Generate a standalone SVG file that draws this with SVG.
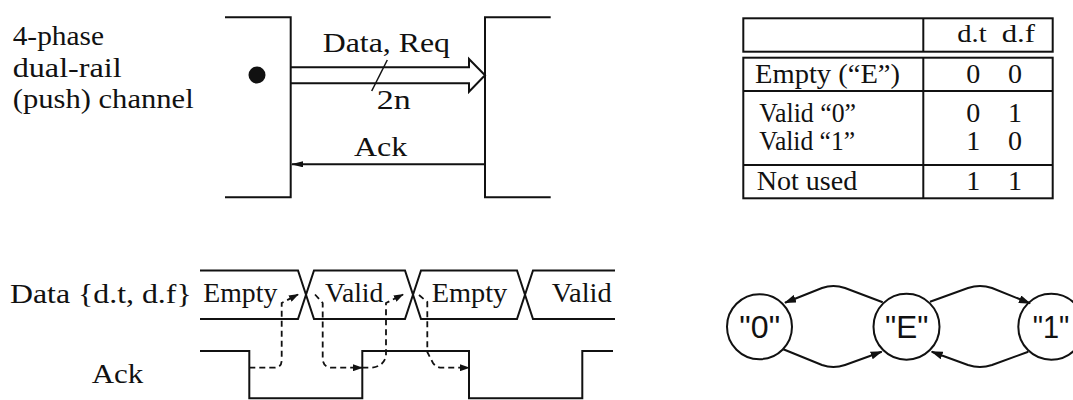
<svg xmlns="http://www.w3.org/2000/svg" width="1073" height="400" viewBox="0 0 1073 400">
<style>
.t{font-family:"Liberation Serif","Times New Roman",serif;font-size:28px;fill:#111}
.th{font-family:"Liberation Serif","Times New Roman",serif;font-size:25px;fill:#111}
.s{font-family:"Liberation Sans",Arial,sans-serif;font-size:32px;fill:#111}
.ln{fill:none;stroke:#111;stroke-width:2}
.thin{fill:none;stroke:#111;stroke-width:1.5}
.dash{fill:none;stroke:#111;stroke-width:1.8;stroke-dasharray:6 4}
.circ{fill:#fff;stroke:#111;stroke-width:2}
</style>
<defs>
<marker id="ah" viewBox="0 0 12 8" refX="11" refY="4" markerWidth="12" markerHeight="8" markerUnits="userSpaceOnUse" orient="auto">
<path d="M0,0 L12,4 L0,8 Z" fill="#111"/>
</marker>
<marker id="ahs" viewBox="0 0 12 6" refX="11" refY="3" markerWidth="12" markerHeight="6" markerUnits="userSpaceOnUse" orient="auto">
<path d="M0,0 L12,3 L0,6 Z" fill="#111"/>
</marker>
<marker id="ahd" viewBox="0 0 10 7" refX="9" refY="3.5" markerWidth="10" markerHeight="7" markerUnits="userSpaceOnUse" orient="auto">
<path d="M0,0 L10,3.5 L0,7 Z" fill="#111"/>
</marker>
</defs>
<rect width="1073" height="400" fill="#fff"/>

<!-- Top-left: channel -->
<g id="channel-label">
<text class="t" x="12.7" y="45" textLength="91.3" lengthAdjust="spacingAndGlyphs">4-phase</text>
<text class="t" x="12.7" y="77.3" textLength="109" lengthAdjust="spacingAndGlyphs">dual-rail</text>
<text class="t" x="12.7" y="108.3" textLength="181" lengthAdjust="spacingAndGlyphs">(push) channel</text>
</g>
<g id="sender">
<path class="ln" d="M225 17.3 H290.7 V197.3 H225"/>
<circle cx="257" cy="75" r="8.5" fill="#111"/>
</g>
<g id="receiver">
<path class="ln" d="M550.7 17.3 H485 V197.3 H550.7"/>
</g>

<!-- Table -->
<g id="table">
<rect class="ln" x="743.3" y="18.3" width="309.4" height="33.4"/>
<line class="ln" x1="923.3" y1="18.3" x2="923.3" y2="51.7"/>
<rect class="ln" x="743.3" y="57.7" width="309.4" height="140.6"/>
<line class="ln" x1="923.3" y1="57.7" x2="923.3" y2="198.3"/>
<line class="ln" x1="743.3" y1="91" x2="1052.7" y2="91"/>
<line class="ln" x1="743.3" y1="165" x2="1052.7" y2="165"/>
<text class="th" x="957.3" y="41.7" textLength="29.4" lengthAdjust="spacingAndGlyphs">d.t</text>
<text class="th" x="1001.7" y="41.7" textLength="33.3" lengthAdjust="spacingAndGlyphs">d.f</text>
<text class="t" x="755" y="83.3" textLength="145" lengthAdjust="spacingAndGlyphs">Empty (“E”)</text>
<text class="t" x="759.3" y="121.7" textLength="96.7" lengthAdjust="spacingAndGlyphs">Valid “0”</text>
<text class="t" x="759.3" y="150" textLength="95.7" lengthAdjust="spacingAndGlyphs">Valid “1”</text>
<text class="t" x="756.7" y="190" textLength="100.6" lengthAdjust="spacingAndGlyphs">Not used</text>
<g text-anchor="middle">
<text class="t" x="973.3" y="83.3">0</text><text class="t" x="1015" y="83.3">0</text>
<text class="t" x="973.3" y="121.7">0</text><text class="t" x="1015" y="121.7">1</text>
<text class="t" x="973.3" y="150">1</text><text class="t" x="1015" y="150">0</text>
<text class="t" x="973.3" y="190">1</text><text class="t" x="1015" y="190">1</text>
</g>
</g>

<!-- Timing diagram -->
<g id="timing-labels">
<text class="t" x="10" y="303.3" textLength="181.7" lengthAdjust="spacingAndGlyphs">Data {d.t, d.f}</text>
<text class="t" x="91.7" y="383.3" textLength="51.6" lengthAdjust="spacingAndGlyphs">Ack</text>
</g>
<g id="data-waveform">
<path class="ln" d="M200 270.5 H298 L314 319 H405 L421 270.5 H517 L533 319 H615"/>
<path class="ln" d="M200 319 H298 L314 270.5 H405 L421 319 H517 L533 270.5 H615"/>
<text class="t" x="203.3" y="301.7" textLength="74" lengthAdjust="spacingAndGlyphs">Empty</text>
<text class="t" x="325" y="301.7" textLength="58.3" lengthAdjust="spacingAndGlyphs">Valid</text>
<text class="t" x="431.7" y="301.7" textLength="75.6" lengthAdjust="spacingAndGlyphs">Empty</text>
<text class="t" x="551.7" y="301.7" textLength="60" lengthAdjust="spacingAndGlyphs">Valid</text>
</g>
<g id="ack-waveform">
<path class="ln" d="M200 351 H249.3 V398.3 H362.3 V351 H469 V398.3 H582.3 V351 H613"/>
</g>

<!-- State graph -->
<g id="state-0">
<circle class="circ" cx="759.5" cy="326.7" r="32.5"/>
<text class="s" x="759.7" y="338" text-anchor="middle" textLength="40.7" lengthAdjust="spacingAndGlyphs">"0"</text>
</g>
<g id="state-E">
<circle class="circ" cx="906.5" cy="326.7" r="33"/>
<text class="s" x="906.7" y="338" text-anchor="middle" textLength="43.3" lengthAdjust="spacingAndGlyphs">"E"</text>
</g>
<g id="state-1">
<circle class="circ" cx="1051.3" cy="326.7" r="33"/>
<text class="s" x="1051" y="338" text-anchor="middle" textLength="36.6" lengthAdjust="spacingAndGlyphs">"1"</text>
</g>

<g id="connectors">
<!-- channel -->
<path class="ln" d="M291 67.3 H469 V59 L485 75.3 L469 91.7 V83.3 H291"/>
<line class="thin" x1="371.7" y1="91" x2="387.3" y2="60"/>
<text class="t" x="322.7" y="51.7" textLength="127.3" lengthAdjust="spacingAndGlyphs">Data, Req</text>
<text class="t" x="376.7" y="109.3" textLength="34" lengthAdjust="spacingAndGlyphs">2n</text>
<line class="ln" x1="485" y1="164.3" x2="292" y2="164.3" marker-end="url(#ahs)"/>
<text class="t" x="354" y="155.7" textLength="53.3" lengthAdjust="spacingAndGlyphs">Ack</text>
<!-- timing causality -->
<path class="dash" d="M249.3 367.7 H274 Q281.7 367.7 281.7 360 V303 L298 294.5" marker-end="url(#ahd)"/>
<path class="dash" d="M315 294.5 L322.7 303 V358 Q322.7 367.7 332 367.7 H362" marker-end="url(#ahd)"/>
<path class="dash" d="M362.3 367.7 H372 Q384 366 386 356 V303 L403 294.5" marker-end="url(#ahd)"/>
<path class="dash" d="M419 295 L427.3 302 V352 L433 363 Q436 367.7 442 367.7 H469" marker-end="url(#ahd)"/>
<!-- state transitions -->
<path class="ln" d="M882.7 302.3 L845 288 Q833.3 284 822 288 L785 302.7" marker-end="url(#ah)"/>
<path class="ln" d="M783.3 349.3 L822 365 Q833.3 369 845 365 L881.7 351.7" marker-end="url(#ah)"/>
<path class="ln" d="M930 301.7 L968 288 Q980 284 992 288 L1030 303.3" marker-end="url(#ah)"/>
<path class="ln" d="M1028.3 351.7 L992 365 Q980 369 968 365 L931.7 351.7" marker-end="url(#ah)"/>
</g>
</svg>
